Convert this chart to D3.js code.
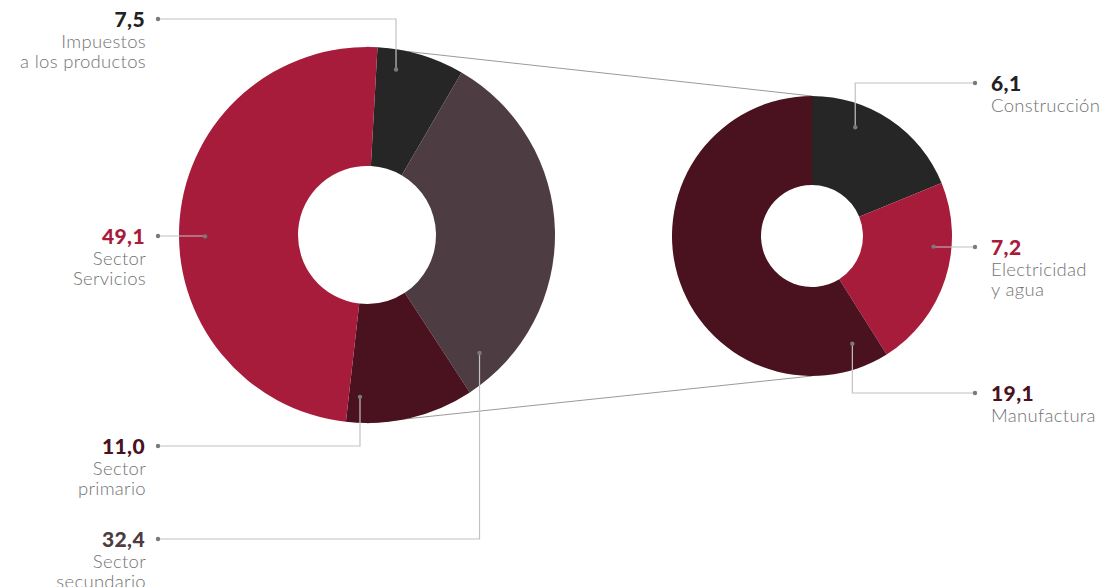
<!DOCTYPE html>
<html>
<head>
<meta charset="utf-8">
<script src="https://cdn.jsdelivr.net/npm/d3@7"></script>
<style>
  html, body { margin: 0; padding: 0; background: #fff; }
  svg { display: block; }
  .num { font-family: Lato, "Open Sans", sans-serif; font-weight: 900; font-size: 21px; letter-spacing: 0.4px; }
  .lbl { font-family: Lato, "Open Sans", sans-serif; font-weight: 300; font-size: 18.5px; letter-spacing: 0.3px; fill: #737373; }
</style>
</head>
<body>
<svg id="chart" width="1103" height="587"></svg>
<script>
// Composición del PIB (%): totales por sector
const sectorNames = [["Impuestos", "a los productos"], ["Sector", "secundario"], ["Sector", "primario"], ["Sector", "Servicios"]];
const sectorValues = [7.5, 32.4, 11.0, 49.1];
const sectorColors = ["#262626", "#4d3c41", "#4a111e", "#a81c3b"];
const sectorTextColors = ["#222222", "#4d3c41", "#4a111e", "#a81c3b"];

// Desglose del sector secundario
const industryNames = [["Construcción"], ["Electricidad", "y agua"], ["Manufactura"]];
const industryValues = [6.1, 7.2, 19.1];
const industryColors = ["#262626", "#a81c3b", "#4a111e"];
const industryTextColors = ["#222222", "#a81c3b", "#4a111e"];

const fmt = v => d3.format(".1f")(v).replace(".", ",");

const svg = d3.select("#chart");
const deg = Math.PI / 180;

const left = { cx: 367, cy: 235, r0: 69, r1: 188, start: 3.2 * deg };
const right = { cx: 812, cy: 236, r0: 51, r1: 140, start: 0 };

// Líneas que unen el sector secundario con su desglose (detrás de las donas)
const connectors = svg.append("g").attr("stroke", "#9a9a9a").attr("stroke-width", 1);
connectors.append("line")
  .attr("x1", left.cx).attr("y1", left.cy - left.r1)
  .attr("x2", right.cx).attr("y2", right.cy - right.r1);
connectors.append("line")
  .attr("x1", left.cx).attr("y1", left.cy + left.r1)
  .attr("x2", right.cx).attr("y2", right.cy + right.r1);

function donut(cfg, values, colors) {
  const pie = d3.pie().sort(null).startAngle(cfg.start).endAngle(cfg.start + 2 * Math.PI);
  const arc = d3.arc().innerRadius(cfg.r0).outerRadius(cfg.r1);
  const arcs = pie(values);
  svg.append("g")
    .attr("transform", `translate(${cfg.cx},${cfg.cy})`)
    .selectAll("path")
    .data(arcs)
    .join("path")
    .attr("d", arc)
    .attr("fill", (d, i) => colors[i]);
  return arcs;
}

const leftArcs = donut(left, sectorValues, sectorColors);
const rightArcs = donut(right, industryValues, industryColors);

// Punto de anclaje dentro de un segmento: fracción del ángulo y radio
function anchor(cfg, a, t, r) {
  const ang = a.startAngle + (a.endAngle - a.startAngle) * t;
  return [cfg.cx + r * Math.sin(ang), cfg.cy - r * Math.cos(ang)];
}

const leaders = svg.append("g");
const labels = svg.append("g");

function callout(p, labelY, dotX, textX, anchorSide, value, color, names) {
  const path = d3.path();
  path.moveTo(dotX, labelY);
  path.lineTo(p[0], labelY);
  path.lineTo(p[0], p[1]);
  leaders.append("path").attr("d", path.toString())
    .attr("fill", "none").attr("stroke", "#c2c2c2").attr("stroke-width", 1.2);
  [[dotX, labelY], p].forEach(q => leaders.append("circle")
    .attr("cx", q[0]).attr("cy", q[1]).attr("r", 2.2).attr("fill", "#7a7a7a"));
  const g = labels.append("g").attr("text-anchor", anchorSide);
  g.append("text").attr("class", "num").attr("x", textX).attr("y", labelY + 8)
    .attr("fill", color).text(fmt(value));
  names.forEach((n, k) => g.append("text").attr("class", "lbl")
    .attr("x", textX + (anchorSide === "end" ? 1 : 0)).attr("y", labelY + 29 + 20 * k).text(n));
}

// Etiquetas de la dona izquierda
const leftLayout = [
  { t: 0.25, r: 168, y: 19 },
  { t: 0.91, r: 163, y: 539 },
  { t: 0.9, r: 162, y: 446 },
  { t: 0.47, r: 162, y: 236 }
];
leftArcs.forEach((a, i) => {
  const L = leftLayout[i];
  callout(anchor(left, a, L.t, L.r), L.y, 158, 145, "end",
    sectorValues[i], sectorTextColors[i], sectorNames[i]);
});

// Etiquetas de la dona derecha
const rightLayout = [
  { t: 0.32, r: 117, y: 83 },
  { t: 0.34, r: 122, y: 247 },
  { t: 0.055, r: 115, y: 393 }
];
rightArcs.forEach((a, i) => {
  const L = rightLayout[i];
  callout(anchor(right, a, L.t, L.r), L.y, 975, 991, "start",
    industryValues[i], industryTextColors[i], industryNames[i]);
});
</script>
</body>
</html>
